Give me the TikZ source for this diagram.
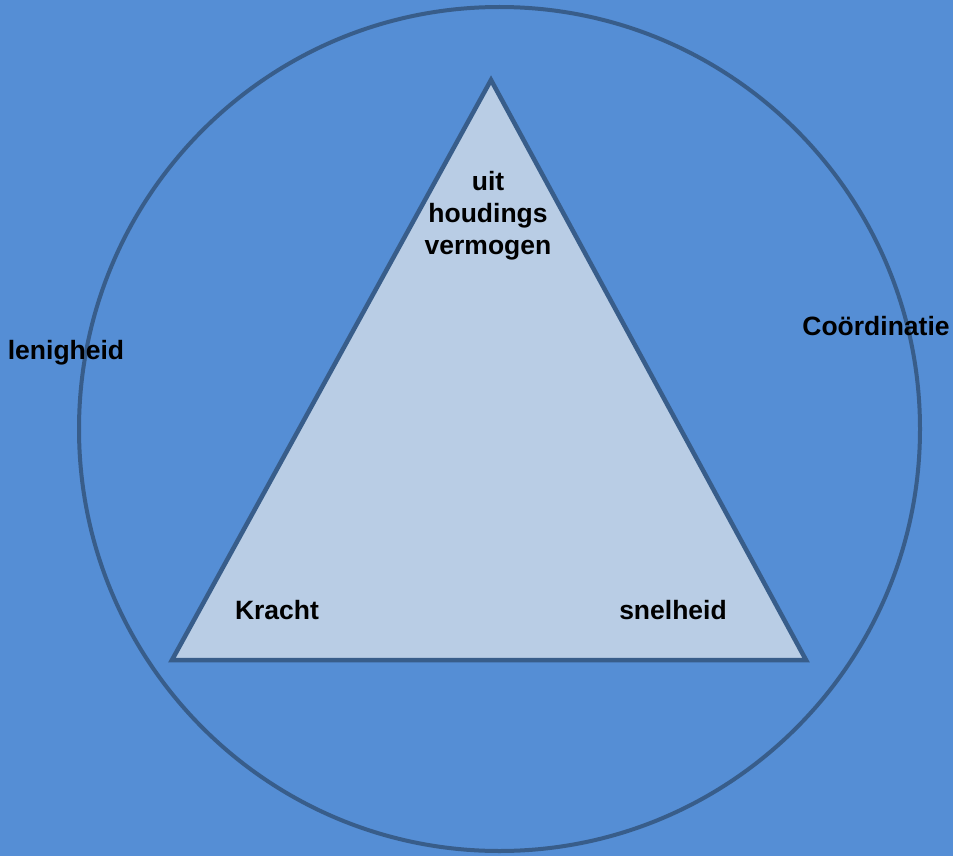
\documentclass[tikz,border=0pt]{standalone}
\usepackage{fontspec}
\setmainfont{Liberation Sans}
\definecolor{bgblue}{HTML}{558ED5}
\definecolor{edgeblue}{HTML}{385D8A}
\definecolor{trifill}{HTML}{B9CDE5}
\begin{document}
\begin{tikzpicture}[x=1pt,y=-1pt,
  lbl/.style={font=\fontsize{26.5}{30}\selectfont\bfseries, text=black, inner sep=0pt, anchor=base}]
\fill[bgblue] (0,0) rectangle (953,856);
\useasboundingbox (0,0) rectangle (953,856);
\draw[edgeblue, line width=4pt] (499.5,429) ellipse [x radius=420.5, y radius=422];
\coordinate (top) at (491,80);
\coordinate (bl) at (172,660);
\coordinate (br) at (806,660);
\draw[edgeblue, fill=trifill, line width=4.5pt, line join=miter] (top) -- (bl) -- (br) -- cycle;
\node[lbl] (uit) at (488,190) {uit};
\node[lbl] (houd) at (488,222) {houdings};
\node[lbl] (verm) at (488,254) {vermogen};
\node[lbl] (len) at (66,359) {lenigheid};
\node[lbl] (coo) at (876,335) {Coördinatie};
\node[lbl] (kr) at (277,619) {Kracht};
\node[lbl] (sn) at (673,619) {snelheid};
\end{tikzpicture}
\end{document}
